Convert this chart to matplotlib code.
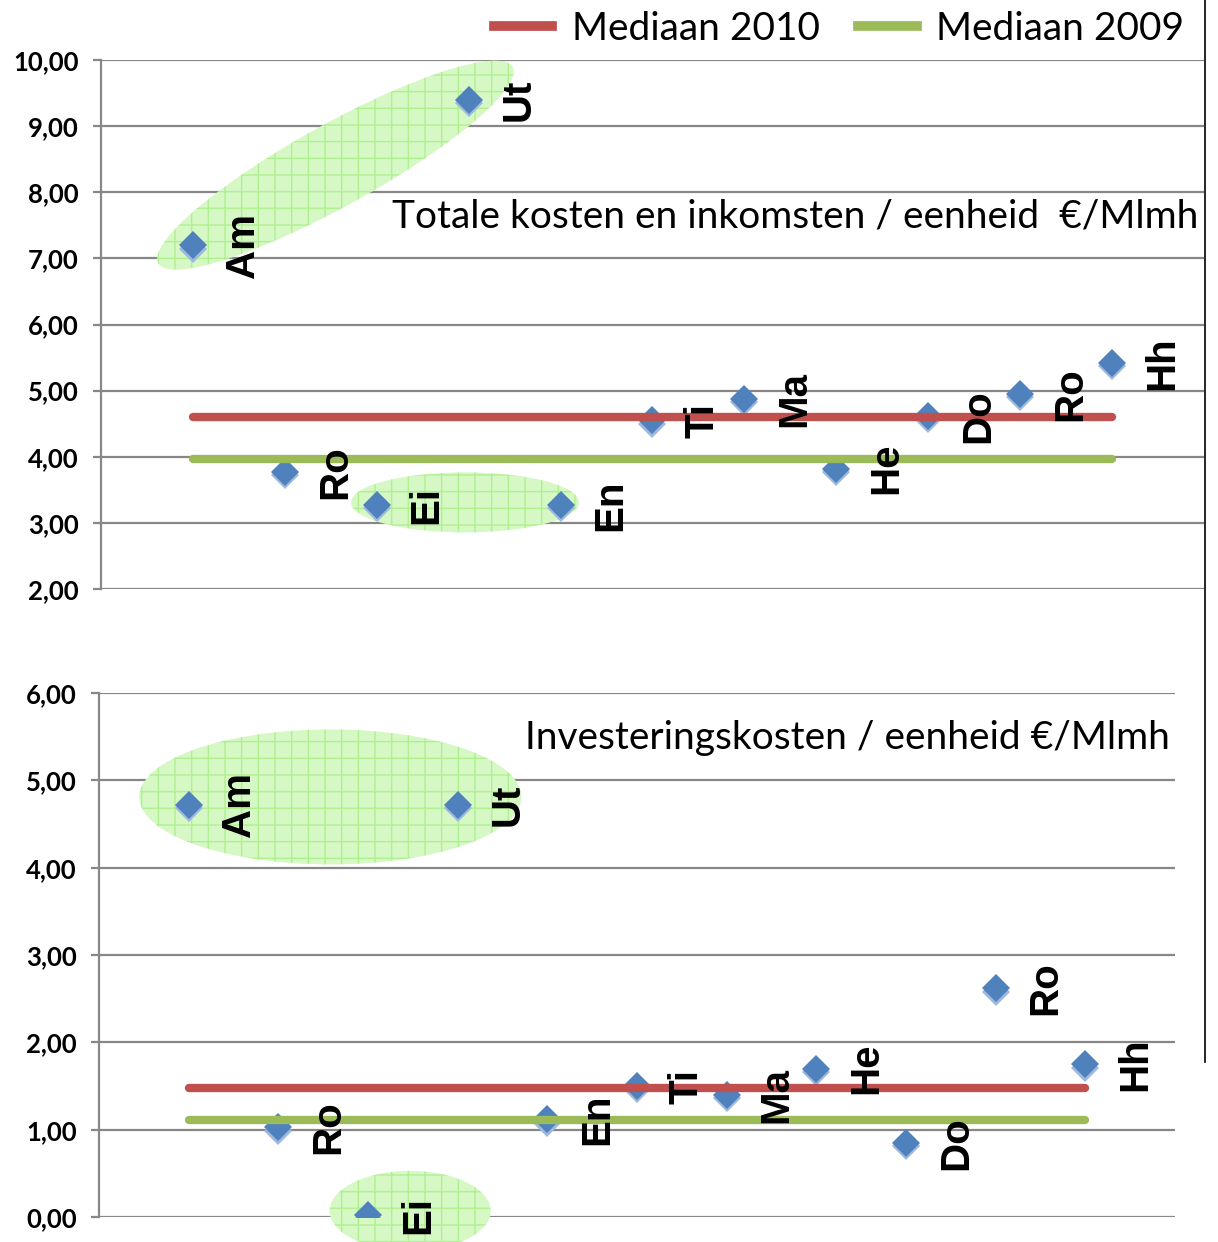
import matplotlib.pyplot as plt
import matplotlib.transforms as mtransforms
from matplotlib.patches import Ellipse
from matplotlib.lines import Line2D
from matplotlib.ticker import FuncFormatter

# data
labels = ['Am', 'Ro', 'Ei', 'Ut', 'En', 'Ti', 'Ma', 'He', 'Do', 'Ro', 'Hh']
totaal = [7.20, 3.77, 3.27, 9.40, 3.27, 4.55, 4.88, 3.82, 4.62, 4.95, 5.42]
invest = [4.72, 1.03, 0.02, 4.72, 1.12, 1.50, 1.40, 1.70, 0.85, 2.62, 1.75]
mediaan_2010 = [4.60, 1.48]
mediaan_2009 = [3.97, 1.11]
titels = ['Totale kosten en inkomsten / eenheid  \u20ac/Mlmh',
          'Investeringskosten / eenheid \u20ac/Mlmh']

x = list(range(1, len(labels) + 1))

RED = '#c0504d'
GREEN = '#9bbb59'
BLUE = '#4f81bd'
GRID = '#878787'

fig = plt.figure(figsize=(12.18, 12.42), dpi=100)
W, H = 1218, 1242

def make_ax(l, r, t, b):
    return fig.add_axes([l / W, 1 - b / H, (r - l) / W, (b - t) / H])

ax1 = make_ax(101, 1204, 60, 589)
ax2 = make_ax(99, 1175, 693, 1217)

def ellipse(ax, xc, yc, w_px, h_px, angle=0):
    tr = fig.dpi_scale_trans + mtransforms.ScaledTranslation(xc, yc, ax.transData)
    for hatch in [None, '+']:
        e = Ellipse((0, 0), w_px / 100, h_px / 100, angle=angle, transform=tr,
                    facecolor='#d5f8c4' if hatch is None else 'none',
                    edgecolor='#b0f090', hatch=hatch, linewidth=0,
                    clip_on=False, zorder=1)
        ax.add_patch(e)

def style(ax, ymin, ymax, vals, med10, med09, title, title_y):
    ax.set_xlim(0, 12)
    ax.set_ylim(ymin, ymax)
    ax.set_yticks(range(ymin, ymax + 1))
    ax.yaxis.set_major_formatter(FuncFormatter(lambda v, p: f'{v:.2f}'.replace('.', ',')))
    ax.set_xticks([])
    ax.grid(axis='y', color=GRID, linewidth=1.6)
    ax.set_axisbelow(True)
    for s in ['top', 'right', 'bottom']:
        ax.spines[s].set_visible(False)
    ax.spines['left'].set_color(GRID)
    ax.spines['left'].set_linewidth(1.6)
    ax.tick_params(axis='y', length=6, width=1.6, color=GRID, pad=10)
    for t in ax.get_yticklabels():
        t.set_fontfamily('Lato')
        t.set_fontweight('bold')
        t.set_fontsize(18.5)

    shadow = ax.transData + mtransforms.ScaledTranslation(0, -2.5 / 72, fig.dpi_scale_trans)
    ax.plot(x, vals, 'D', color='#9fb8de', markersize=14, markeredgewidth=0,
            transform=shadow, zorder=3)
    ax.plot(x, vals, 'D', color=BLUE, markersize=14, markeredgewidth=0, zorder=3)
    ax.plot([x[0], x[-1]], [med10, med10], color=RED, linewidth=6,
            solid_capstyle='round', zorder=4)
    ax.plot([x[0], x[-1]], [med09, med09], color=GREEN, linewidth=6,
            solid_capstyle='round', zorder=4)
    for xi, v, lab in zip(x, vals, labels):
        ax.annotate(lab, (xi, v), xytext=(36, 0), textcoords='offset points',
                    rotation=90, ha='center', va='center', fontsize=29,
                    fontweight='bold', family='Liberation Sans', zorder=5,
                    annotation_clip=False)
    ax.text(0.995, title_y, title, transform=ax.transAxes, ha='right', va='center',
            fontsize=28, family='Lato')

style(ax1, 2, 10, totaal, mediaan_2010[0], mediaan_2009[0], titels[0], 0.705)
style(ax2, 0, 6, invest, mediaan_2010[1], mediaan_2009[1], titels[1], 0.915)

# groene markeringen
ellipse(ax1, 2.55, 8.41, 405, 82, angle=29)
ellipse(ax1, 3.96, 3.31, 228, 60)
ellipse(ax2, 2.58, 4.81, 382, 135)
ellipse(ax2, 3.47, 0.07, 161, 80)

# legenda
handles = [Line2D([], [], color=RED, linewidth=7),
           Line2D([], [], color=GREEN, linewidth=7)]
fig.legend(handles, ['Mediaan 2010', 'Mediaan 2009'], loc='upper right',
           bbox_to_anchor=(0.985, 1.004), ncol=2, frameon=False,
           prop={'family': 'Lato', 'size': 28}, handlelength=1.5,
           handletextpad=0.5, columnspacing=1.0, borderaxespad=0.0)

fig.add_artist(Line2D([1205 / W, 1205 / W], [1, 1 - 1062 / H], color='black',
                      linewidth=1.2, transform=fig.transFigure))

fig.savefig('out.png', dpi=100)
